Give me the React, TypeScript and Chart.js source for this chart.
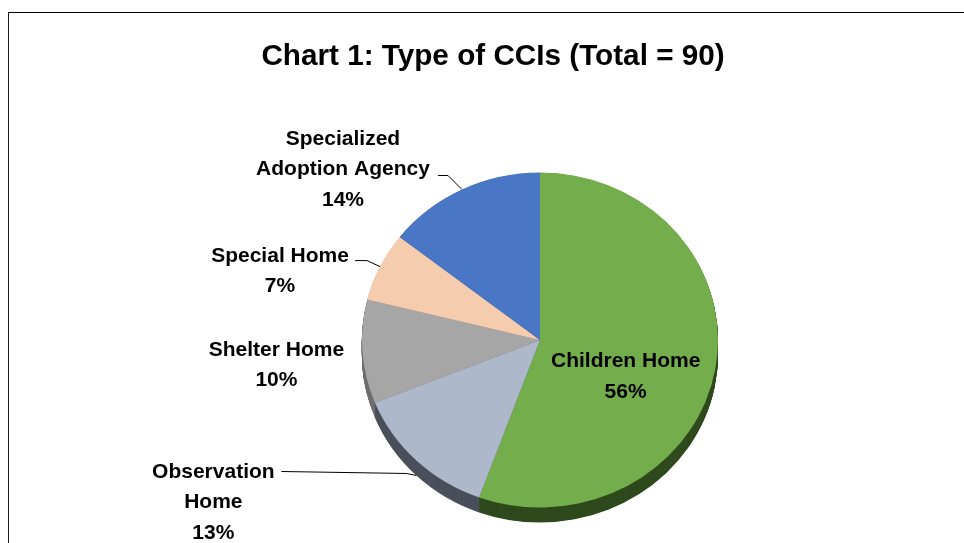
import { useEffect, useRef } from 'react';
import { Chart, registerables } from 'chart.js';

Chart.register(...registerables);

// ---------------- data ----------------
const TITLE = 'Chart 1: Type of CCIs (Total = 90)';
const categories = ['Children Home', 'Observation Home', 'Shelter Home', 'Special Home', 'Specialized Adoption Agency'];
const counts = [50, 12, 9, 6, 13];
const labelLines = [
  ['Children Home'],
  ['Observation', 'Home'],
  ['Shelter Home'],
  ['Special Home'],
  ['Specialized', 'Adoption Agency'],
];

// ---------------- style ----------------
const sliceColors = ['#73AD4C', '#ADB9CA', '#A6A6A6', '#F6CCAF', '#4A76C6'];
const rimColors = ['#2F4A1D', '#4A505B', '#6E6E6E', '#A08371', '#2B4878'];
const FONT_FAMILY = "'Liberation Sans', Arial, sans-serif";
const LABEL_FONT = `bold 21px ${FONT_FAMILY}`;
const LINE_H = 30.5;
const SHIFT_X = 47;
const SCALE_Y = 167.5 / 178;
const DEPTH = 15;

type LabelStyle = { inside?: boolean; rim?: boolean; dx: number; dy: number; leader?: number[][] };
const labelStyle: LabelStyle[] = [
  { inside: true, dx: -2, dy: 22 },
  { rim: true, dx: -203, dy: 27, leader: [[-10, -2], [-135, -4]] },
  { dx: -86, dy: 13.5 },
  { dx: -100, dy: 4.5, leader: [[-13, -6], [-25, -6]] },
  { dx: -119, dy: -20, leader: [[-14, -14], [-24, -14]] },
];

const total = counts.reduce((a, b) => a + b, 0);
const percents = counts.map((v) => Math.round((v / total) * 100) + '%');

const pie3d = {
  id: 'pie3d',
  beforeDatasetsDraw(chart: any) {
    const ctx = chart.ctx as CanvasRenderingContext2D;
    const meta = chart.getDatasetMeta(0);
    const first = meta.data[0].getProps(['x', 'y'], true);
    ctx.save();
    ctx.translate(first.x + SHIFT_X, first.y);
    ctx.scale(1, SCALE_Y);
    ctx.translate(-first.x, -first.y);
    for (let d = DEPTH; d >= 0.5; d -= 0.5) {
      meta.data.forEach((arc: any, i: number) => {
        const p = arc.getProps(['x', 'y', 'startAngle', 'endAngle', 'outerRadius'], true);
        const yy = p.y + d / SCALE_Y;
        ctx.beginPath();
        ctx.moveTo(p.x, yy);
        ctx.arc(p.x, yy, p.outerRadius, p.startAngle, p.endAngle);
        ctx.closePath();
        ctx.fillStyle = rimColors[i];
        ctx.fill();
      });
    }
  },
  afterDatasetsDraw(chart: any) {
    chart.ctx.restore();
  },
  afterDraw(chart: any) {
    const ctx = chart.ctx as CanvasRenderingContext2D;
    const meta = chart.getDatasetMeta(0);
    ctx.save();
    ctx.font = LABEL_FONT;
    ctx.fillStyle = '#000000';
    ctx.strokeStyle = '#000000';
    ctx.lineWidth = 1;
    ctx.textAlign = 'center';
    ctx.textBaseline = 'middle';
    meta.data.forEach((arc: any, i: number) => {
      const p = arc.getProps(['x', 'y', 'startAngle', 'endAngle', 'outerRadius'], true);
      const mid = (p.startAngle + p.endAngle) / 2;
      const st = labelStyle[i];
      const f = st.inside ? 0.5 : 1;
      const cx = p.x + SHIFT_X;
      const cy = p.y;
      const ex = cx + p.outerRadius * f * Math.cos(mid);
      const ey = cy + p.outerRadius * SCALE_Y * f * Math.sin(mid) + (st.rim ? DEPTH : 0);
      const lines = [...labelLines[i], percents[i]];
      const bx = ex + st.dx;
      const by = ey + st.dy;
      lines.forEach((t, k) => {
        ctx.fillText(t, bx, by + (k - (lines.length - 1) / 2) * LINE_H);
      });
      if (st.leader) {
        ctx.beginPath();
        ctx.moveTo(ex, ey);
        st.leader.forEach(([lx, ly]) => ctx.lineTo(ex + lx, ey + ly));
        ctx.stroke();
      }
    });
    ctx.restore();
  },
};

export default function App() {
  const ref = useRef<HTMLCanvasElement | null>(null);
  useEffect(() => {
    if (!ref.current) return;
    const chart = new Chart(ref.current, {
      type: 'pie',
      data: {
        labels: categories,
        datasets: [
          {
            data: counts,
            backgroundColor: sliceColors,
            borderWidth: 0,
            clip: false as any,
          },
        ],
      },
      options: {
        responsive: false,
        animation: false,
        events: [],
        layout: { padding: { left: 22, right: 0, top: 0, bottom: 25 } },
        plugins: {
          legend: { display: false },
          tooltip: { enabled: false },
          title: {
            display: true,
            text: TITLE,
            color: '#000000',
            font: { family: FONT_FAMILY, size: 29.7, weight: 'bold', lineHeight: 1.2 },
            padding: { top: 38.6, bottom: 87.8 },
          },
        },
      },
      plugins: [pie3d],
    });
    return () => chart.destroy();
  }, []);

  return (
    <div style={{ position: 'fixed', left: 0, top: 0, width: 964, height: 543, overflow: 'hidden', background: '#fff' }}>
      <div
        style={{
          position: 'absolute',
          left: 8,
          top: 12,
          width: 1100,
          height: 700,
          borderTop: '1px solid #000',
          borderLeft: '1px solid #1a1a1a',
        }}
      />
      <canvas ref={ref} width={964} height={543} style={{ position: 'absolute', left: 0, top: 0 }} />
    </div>
  );
}
